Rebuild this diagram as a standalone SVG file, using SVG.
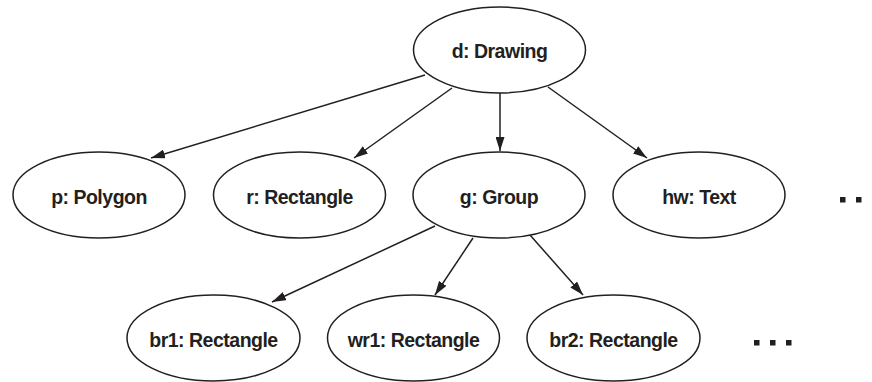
<svg xmlns="http://www.w3.org/2000/svg" width="872" height="382" viewBox="0 0 872 382">
  <defs>
    <marker id="arrow" viewBox="0 0 14 9" refX="14" refY="4.5" markerWidth="14" markerHeight="9" markerUnits="userSpaceOnUse" orient="auto">
      <path d="M0,0 L14,4.5 L0,9 Z" fill="#231f20"/>
    </marker>
    <style>
      .node ellipse { fill: #ffffff; stroke: #231f20; stroke-width: 1.5; }
      .node text { font-family: "Liberation Sans", Arial, sans-serif; font-weight: bold; font-size: 19.5px; letter-spacing: -0.5px; fill: #231f20; text-anchor: middle; }
      .edge { stroke: #231f20; stroke-width: 1.5; fill: none; marker-end: url(#arrow); }
      .dot { fill: #231f20; }
    </style>
  </defs>
  <rect width="872" height="382" fill="#ffffff"/>

  <!-- connectors -->
  <g id="connectors">
    <line class="edge" x1="425" y1="75" x2="151" y2="158"/>
    <line class="edge" x1="452" y1="88" x2="354" y2="158"/>
    <line class="edge" x1="500" y1="93" x2="500" y2="151"/>
    <line class="edge" x1="548" y1="87" x2="647" y2="158"/>
    <line class="edge" x1="435" y1="226" x2="272" y2="302"/>
    <line class="edge" x1="473" y1="238" x2="435" y2="295"/>
    <line class="edge" x1="530" y1="235" x2="583" y2="295"/>
  </g>

  <!-- nodes -->
  <g id="d" class="node">
    <ellipse cx="499.5" cy="50" rx="86" ry="43"/>
    <text x="499.5" y="58">d: Drawing</text>
  </g>
  <g id="p" class="node">
    <ellipse cx="99" cy="195" rx="86" ry="43"/>
    <text x="99" y="204">p: Polygon</text>
  </g>
  <g id="r" class="node">
    <ellipse cx="299.5" cy="195" rx="86" ry="43"/>
    <text x="299.5" y="204">r: Rectangle</text>
  </g>
  <g id="g" class="node">
    <ellipse cx="499" cy="195" rx="86" ry="43"/>
    <text x="499" y="204">g: Group</text>
  </g>
  <g id="hw" class="node">
    <ellipse cx="699" cy="195" rx="86" ry="43"/>
    <text x="699" y="204">hw: Text</text>
  </g>
  <g id="br1" class="node">
    <ellipse cx="213.5" cy="338" rx="86.5" ry="43"/>
    <text x="213.5" y="347">br1: Rectangle</text>
  </g>
  <g id="wr1" class="node">
    <ellipse cx="413.5" cy="338" rx="86" ry="43"/>
    <text x="413.5" y="347">wr1: Rectangle</text>
  </g>
  <g id="br2" class="node">
    <ellipse cx="613.5" cy="338" rx="86.5" ry="43"/>
    <text x="613.5" y="347">br2: Rectangle</text>
  </g>

  <!-- ellipsis marks -->
  <g id="more-top">
    <rect class="dot" x="840" y="197" width="5.5" height="5.5"/>
    <rect class="dot" x="856" y="197" width="5.5" height="5.5"/>
  </g>
  <g id="more-bottom">
    <rect class="dot" x="754" y="340" width="5.5" height="5.5"/>
    <rect class="dot" x="770" y="340" width="5.5" height="5.5"/>
    <rect class="dot" x="786" y="340" width="5.5" height="5.5"/>
  </g>
</svg>
